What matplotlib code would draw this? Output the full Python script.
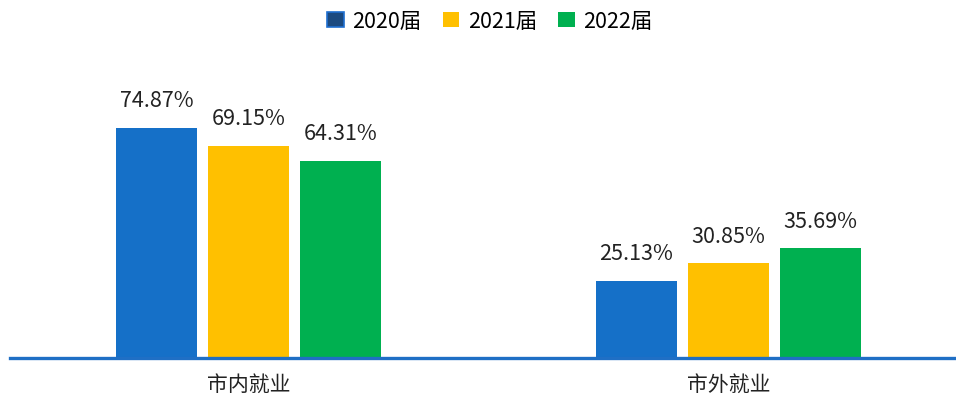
import matplotlib
matplotlib.use("Agg")
import matplotlib.pyplot as plt
from matplotlib.patches import Patch
import numpy as np

plt.rcParams['font.family'] = ['Noto Sans CJK SC', 'DejaVu Sans']

categories = ['市内就业', '市外就业']
series_names = ['2020届', '2021届', '2022届']
v2020 = [74.87, 25.13]
v2021 = [69.15, 30.85]
v2022 = [64.31, 35.69]
series = [v2020, v2021, v2022]
colors = ['#1570c8', '#ffc000', '#00b050']

W, H = 956, 402
fig = plt.figure(figsize=(W / 100, H / 100), dpi=100)
ax = fig.add_axes([10 / W, (H - 359) / H, 946 / W, 299 / H])

x = np.arange(len(categories))
width = 0.169
step = 0.1917
for i, (vals, c) in enumerate(zip(series, colors)):
    pos = x + (i - 1) * step
    bars = ax.bar(pos, vals, width=width, color=c, zorder=2)
    for b, v in zip(bars, vals):
        ax.annotate(f'{v:.2f}%', (b.get_x() + b.get_width() / 2, v),
                    xytext=(0, 12), textcoords='offset points',
                    ha='center', va='bottom', fontsize=15.5, color='#222222')

ax.set_xlim(-0.497, 1.474)
ax.set_ylim(0, 97.4)
for s in ['top', 'right', 'left']:
    ax.spines[s].set_visible(False)
ax.spines['bottom'].set_color('#1f6fc5')
ax.spines['bottom'].set_linewidth(2.4)
ax.set_yticks([])
ax.set_xticks(x)
ax.set_xticklabels(categories, fontsize=15, color='#222222')
ax.tick_params(axis='x', length=0, pad=11)

handles = [Patch(facecolor='#1b4a80', edgecolor='#1f6fd0', linewidth=1.2),
           Patch(facecolor=colors[1]), Patch(facecolor=colors[2])]
fig.legend(handles, series_names, loc='center', bbox_to_anchor=(490 / W, 1 - 22 / H),
           ncol=3, frameon=False, fontsize=15.5, handlelength=0.75, handleheight=0.75,
           handletextpad=0.4, columnspacing=1.0)

fig.savefig('out.png', dpi=100)
